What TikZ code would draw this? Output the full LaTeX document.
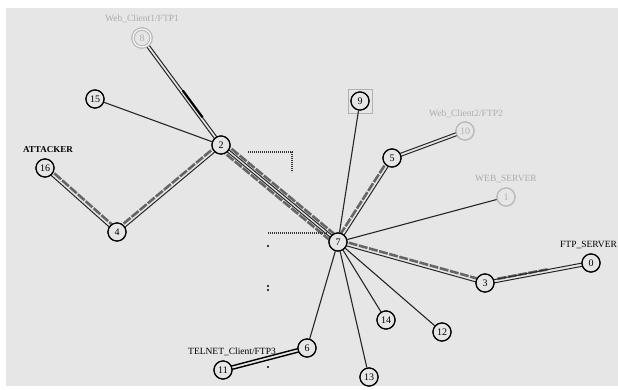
\documentclass[tikz,border=0pt]{standalone}
\usepackage{fontspec}
\setmainfont{Liberation Serif}
\usetikzlibrary{calc}
\newcommand\offl[4]{\draw[#1] ($(#2)!#4!90:(#3)$) -- ($(#3)!#4!-90:(#2)$);}
\newcommand\offpart[6]{\draw[#1] ($($(#2)!#5!(#3)$)!#4!90:(#3)$) -- ($($(#2)!#6!(#3)$)!#4!90:(#3)$);}
\begin{document}
\begin{tikzpicture}[x=1pt,y=-1pt,
  nd/.style={circle,draw=black,line width=1.2pt,minimum size=18pt,inner sep=0pt,fill=bgc,font=\fontsize{10}{10}\selectfont},
  gnd/.style={nd,draw=gray!55,text=gray!60},
  lbl/.style={font=\fontsize{9.5}{9.5}\selectfont,inner sep=0pt},
  glbl/.style={lbl,text=gray!65},
  plain/.style={draw=black!85,line width=1.1pt},
  thin/.style={draw=black!85,line width=1pt},
  band/.style={draw=black!60,line width=2.6pt,dash pattern=on 9pt off 1.5pt},
  dots/.style={draw=black!80,line width=1.4pt,dash pattern=on 1.2pt off 0.8pt}
]
\definecolor{bgc}{RGB}{230,230,230}
\useasboundingbox (0,0) rectangle (618,389);
\fill[white] (0,0) rectangle (618,389);
\fill[bgc] (6,8) rectangle (618,386);

% nodes
\node[gnd,double,double distance=1pt] (n8) at (142,38) {8};
\node[glbl] (l8) at (142,19) {Web\_Client1/FTP1};
\node[nd] (n15) at (95,99) {15};
\node[nd] (n2) at (221,145) {2};
\node[nd] (n16) at (45,168) {16};
\node[lbl,font=\fontsize{9}{9}\selectfont\bfseries] (l16) at (48,150) {ATTACKER};
\node[nd] (n4) at (117,232) {4};
\node[nd] (n9) at (360,101) {9};
\node[draw=gray!60,line width=0.9pt,minimum size=24pt,inner sep=0pt] (b9) at (360,101) {};
\node[gnd] (n10) at (465,131) {10};
\node[glbl] (l10) at (466,114) {Web\_Client2/FTP2};
\node[nd] (n5) at (392,158) {5};
\node[gnd] (n1) at (506,197) {1};
\node[glbl] (l1) at (506,179) {WEB\_SERVER};
\node[nd] (n7) at (338,242) {7};
\node[nd] (n3) at (485,283) {3};
\node[nd] (n0) at (591,263) {0};
\node[lbl,anchor=west] (l0) at (560,245) {FTP\_SERVER};
\node[nd] (n14) at (386,320) {14};
\node[nd] (n12) at (442,332) {12};
\node[nd] (n13) at (369,377) {13};
\node[nd] (n6) at (307,348) {6};
\node[nd] (n11) at (223,370) {11};
\node[lbl] (l11) at (232,352) {TELNET\_Client/FTP3};

% edges
% 16-4
\offl{band}{n16}{n4}{2.2pt}
\offl{thin}{n16}{n4}{-1.4pt}
% 4-2
\offl{band}{n4}{n2}{2.2pt}
\offl{thin}{n4}{n2}{-1.4pt}
% 2-7
\offl{band}{n2}{n7}{3.8pt}
\offl{band}{n2}{n7}{-3.8pt}
\offl{thin}{n2}{n7}{1.3pt}
\offl{thin}{n2}{n7}{-1.3pt}
% 7-3
\offl{band}{n7}{n3}{2.2pt}
\offl{thin}{n7}{n3}{-1.4pt}
% 3-0
\offpart{band}{n3}{n0}{1.8pt}{0.12}{0.6}
\offl{thin}{n3}{n0}{1.6pt}
\offl{thin}{n3}{n0}{-1.6pt}
% 5-7
\offl{band}{n5}{n7}{-2.2pt}
\offl{thin}{n5}{n7}{1.4pt}
% 8-2
\offl{thin}{n8}{n2}{1.5pt}
\offl{thin}{n8}{n2}{-1.5pt}
\offpart{draw=black,line width=2.2pt}{n8}{n2}{1.6pt}{0.5}{0.75}
% 5-10
\offl{thin}{n5}{n10}{1.5pt}
\offl{thin}{n5}{n10}{-1.5pt}
% 6-11
\offl{draw=black,line width=1.4pt}{n6}{n11}{1.7pt}
\offl{draw=black,line width=1.4pt}{n6}{n11}{-1.7pt}
% singles
\draw[plain] (n15) -- (n2);
\draw[plain] (n9) -- (n7);
\draw[plain] (n1) -- (n7);
\draw[plain] (n7) -- (n14);
\draw[plain] (n7) -- (n12);
\draw[plain] (n7) -- (n13);
\draw[plain] (n7) -- (n6);

% dotted marks
\coordinate (d1) at (248,152);
\coordinate (d2) at (292,152);
\coordinate (d3) at (292,172);
\draw[dots] (d1) -- (d2) -- (d3);
\coordinate (d4) at (268,233);
\coordinate (d5) at (328,233);
\draw[dots] (d4) -- (d5);
\fill (268,246) circle (1.1pt);
\fill (268,286) circle (1.1pt);
\fill (268,290) circle (1.1pt);
\fill (268,367) circle (1.1pt);

% nodes on top of connectors
\node[gnd,double,double distance=1pt] at (142,38) {8};
\node[nd] at (95,99) {15};
\node[nd] at (221,145) {2};
\node[nd] at (45,168) {16};
\node[nd] at (117,232) {4};
\node[nd] at (360,101) {9};
\node[gnd] at (465,131) {10};
\node[nd] at (392,158) {5};
\node[gnd] at (506,197) {1};
\node[nd] at (338,242) {7};
\node[nd] at (485,283) {3};
\node[nd] at (591,263) {0};
\node[nd] at (386,320) {14};
\node[nd] at (442,332) {12};
\node[nd] at (369,377) {13};
\node[nd] at (307,348) {6};
\node[nd] at (223,370) {11};
\end{tikzpicture}
\end{document}
